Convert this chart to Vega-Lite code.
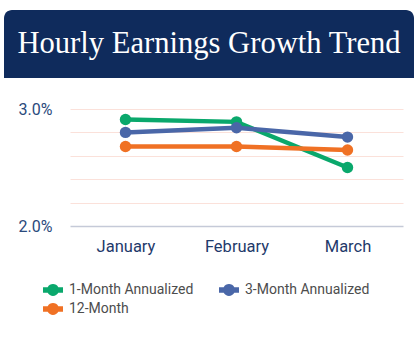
{
  "$schema": "https://vega.github.io/schema/vega-lite/v6.json",
  "background": "white",
  "padding": {"left": 4, "top": 10, "right": 6, "bottom": 0},
  "spacing": 23,
  "config": {"view": {"stroke": null}, "font": "Roboto"},
  "data": {"values": [
    {"month": "January", "series": "1-Month Annualized", "value": 2.91},
    {"month": "February", "series": "1-Month Annualized", "value": 2.89},
    {"month": "March", "series": "1-Month Annualized", "value": 2.5},
    {"month": "January", "series": "3-Month Annualized", "value": 2.8},
    {"month": "February", "series": "3-Month Annualized", "value": 2.84},
    {"month": "March", "series": "3-Month Annualized", "value": 2.76},
    {"month": "January", "series": "12-Month", "value": 2.68},
    {"month": "February", "series": "12-Month", "value": 2.68},
    {"month": "March", "series": "12-Month", "value": 2.65}
  ]},
  "vconcat": [
    {
      "width": 410,
      "height": 68,
      "view": {"fill": "#0f2b5c", "cornerRadius": 8, "stroke": null},
      "data": {"values": [{"title": "Hourly Earnings Growth Trend", "lo": 0, "hi": 0.5}]},
      "layer": [
        {
          "mark": {"type": "rect", "color": "#0f2b5c"},
          "encoding": {
            "y": {"field": "lo", "type": "quantitative", "scale": {"domain": [0, 1]}, "axis": null},
            "y2": {"field": "hi"}
          }
        },
        {
          "mark": {"type": "text", "font": "Liberation Serif", "fontSize": 30.6, "color": "white"},
          "encoding": {"text": {"field": "title"}}
        }
      ]
    },
    {
      "spacing": 5,
      "hconcat": [
        {
          "width": 1,
          "height": 117,
          "data": {"values": []},
          "mark": {"type": "point", "opacity": 0}
        },
        {
          "width": 333,
          "height": 117,
          "encoding": {
            "x": {"field": "month", "type": "ordinal", "sort": ["January", "February", "March"],
              "scale": {"type": "point", "padding": 0.5},
              "axis": {"title": null, "labelAngle": 0, "domain": false, "ticks": false, "labelFontSize": 16.5, "labelColor": "#1f3a6b", "labelPadding": 12}},
            "y": {"field": "value", "type": "quantitative", "scale": {"domain": [2, 3]},
              "axis": {"title": null, "values": [2, 2.2, 2.4, 2.6, 2.8, 3],
                "labelExpr": "datum.value == 2 || datum.value == 3 ? format(datum.value, '.1f') + '%' : ''",
                "gridColor": {"condition": {"test": "datum.value == 2", "value": "#c5cad8"}, "value": "#fbe1da"},
                "gridWidth": {"condition": {"test": "datum.value == 2", "value": 1.5}, "value": 1},
                "domain": false, "ticks": false, "labelFontSize": 16, "labelColor": "#2a4a7c", "labelPadding": 18, "minExtent": 60}}
          },
          "layer": [
            {
              "mark": {"type": "line", "strokeWidth": 4.5},
              "encoding": {"color": {"field": "series", "type": "nominal",
                "scale": {"domain": ["1-Month Annualized", "3-Month Annualized", "12-Month"], "range": ["#0aa86c", "#4a67a8", "#f07124"]}}}
            },
            {
              "mark": {"type": "point", "filled": true, "size": 130, "opacity": 1},
              "encoding": {"color": {"field": "series", "type": "nominal",
                "scale": {"domain": ["1-Month Annualized", "3-Month Annualized", "12-Month"], "range": ["#0aa86c", "#4a67a8", "#f07124"]},
                "legend": {"title": null, "orient": "none", "legendX": 39, "legendY": 270, "columns": 2, "direction": "horizontal",
                  "columnPadding": 25, "rowPadding": 2,
                  "symbolType": "M-1,-0.28 L-0.53,-0.28 A0.6,0.6 0 0 1 0.53,-0.28 L1,-0.28 L1,0.28 L0.53,0.28 A0.6,0.6 0 0 1 -0.53,0.28 L-1,0.28 Z",
                  "symbolSize": 400, "symbolStrokeWidth": 0, "symbolOpacity": 1, "symbolFillColor": null,
                  "labelFontSize": 14, "labelColor": "#4d4d4d", "labelFont": "Roboto", "labelOffset": 6}}}
            }
          ]
        }
      ]
    }
  ]
}
